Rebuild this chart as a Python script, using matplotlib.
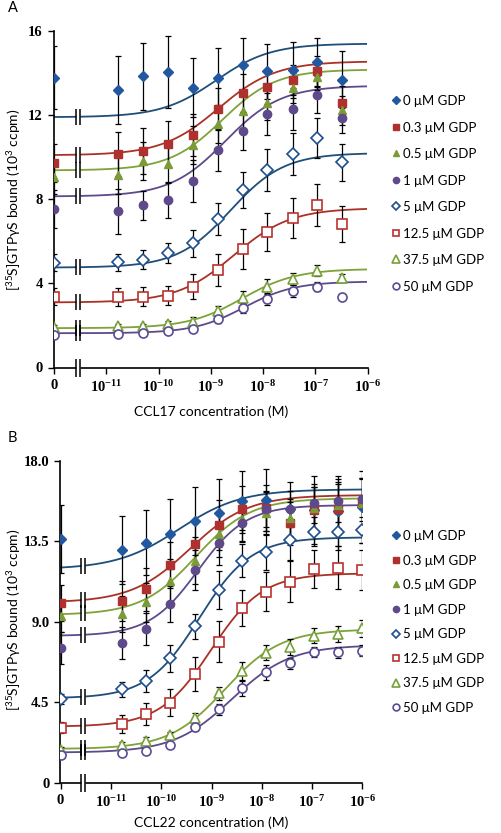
import numpy as np
import matplotlib
matplotlib.use('Agg')
import matplotlib.pyplot as plt
from matplotlib.path import Path
from matplotlib.lines import Line2D

plt.rcParams['mathtext.default'] = 'regular'

# ---------------- data ----------------
gdp_labels = ['0 μM GDP', '0.3 μM GDP', '0.5 μM GDP', '1 μM GDP',
              '5 μM GDP', '12.5 μM GDP', '37.5 μM GDP', '50 μM GDP']

# ligand concentrations (M); 0 = no ligand (drawn at the "0" position)
conc_a = [0, 1.7e-11, 5.1e-11, 1.5e-10, 4.6e-10, 1.4e-9, 4.1e-9, 1.2e-8, 3.7e-8, 1.1e-7, 3.3e-7]
conc_b = [0, 1.7e-11, 5.1e-11, 1.5e-10, 4.6e-10, 1.4e-9, 4.1e-9, 1.2e-8, 3.7e-8, 1.1e-7, 3.3e-7, 1.0e-6]

# Panel A (CCL17) mean [35S]GTPgS bound (10^3 ccpm)
a_0 = [13.77, 13.2, 13.85, 14.04, 13.3, 13.77, 14.36, 14.09, 14.15, 14.51, 13.69]
a_03 = [9.72, 10.17, 10.28, 10.64, 11.07, 12.3, 13.06, 13.33, 13.68, 14.1, 12.58]
a_05 = [9.06, 9.13, 9.8, 9.69, 10.56, 11.56, 12.21, 12.58, 13.28, 13.8, 12.23]
a_1 = [7.55, 7.42, 7.71, 7.98, 8.85, 10.33, 11.23, 12.06, 12.3, 12.98, 11.87]
a_5 = [4.99, 5.0, 5.12, 5.44, 5.91, 7.07, 8.45, 9.37, 10.15, 10.92, 9.75]
a_125 = [3.37, 3.37, 3.37, 3.42, 3.85, 4.64, 5.63, 6.44, 7.1, 7.71, 6.82]
a_375 = [1.94, 1.97, 1.97, 2.05, 2.18, 2.69, 3.32, 3.85, 4.2, 4.61, 4.25]
a_50 = [1.55, 1.6, 1.62, 1.75, 1.82, 2.3, 2.82, 3.26, 3.64, 3.85, 3.34]

# Panel A error (SEM)
ea_0 = [1.5, 1.6, 1.6, 1.7, 1.4, 1.4, 1.3, 1.3, 1.35, 1.15, 1.35]
ea_03 = [0.9, 1.05, 1.1, 1.1, 1.0, 1.0, 0.9, 0.8, 0.7, 0.7, 0.8]
ea_05 = [0.8, 0.9, 0.9, 0.9, 0.9, 0.9, 0.9, 0.8, 0.7, 0.6, 0.7]
ea_1 = [0.9, 1.05, 0.7, 0.85, 1.0, 1.0, 0.9, 1.0, 1.0, 0.9, 0.7]
ea_5 = [0.4, 0.42, 0.45, 0.48, 0.65, 0.75, 0.85, 1.0, 1.0, 0.95, 0.9]
ea_125 = [0.4, 0.43, 0.45, 0.47, 0.6, 0.75, 0.95, 0.9, 0.95, 1.0, 0.85]
ea_375 = [0.1, 0.1, 0.12, 0.15, 0.2, 0.25, 0.3, 0.35, 0.3, 0.25, 0.2]
ea_50 = [0.1, 0.1, 0.1, 0.12, 0.15, 0.2, 0.25, 0.3, 0.3, 0.2, 0.15]

# Panel B (CCL22)
b_0 = [13.61, 13.0, 13.41, 13.88, 14.64, 15.05, 15.75, 15.79, 15.3, 15.23, 15.18, 15.4]
b_03 = [10.04, 10.15, 10.8, 12.16, 13.32, 14.4, 15.27, 15.35, 14.49, 15.23, 15.3, 15.6]
b_05 = [9.33, 9.42, 10.08, 11.27, 12.4, 13.89, 14.73, 15.05, 14.77, 15.33, 15.51, 15.64]
b_1 = [7.54, 7.82, 8.57, 9.98, 11.88, 13.37, 14.53, 15.27, 15.27, 15.61, 15.74, 15.83]
b_5 = [4.68, 5.22, 5.7, 6.95, 8.75, 10.77, 12.4, 12.9, 13.56, 14.02, 14.02, 14.12]
b_125 = [3.07, 3.26, 3.84, 4.47, 6.07, 7.88, 9.74, 10.67, 11.23, 11.94, 12.01, 11.88]
b_375 = [1.83, 2.11, 2.35, 2.66, 3.6, 4.99, 6.24, 7.26, 7.56, 8.21, 8.31, 8.62]
b_50 = [1.55, 1.64, 1.79, 2.11, 3.09, 4.1, 5.27, 6.17, 6.67, 7.32, 7.28, 7.37]

eb_0 = [1.9, 1.9, 1.8, 1.95, 1.9, 1.9, 1.66, 1.73, 1.5, 1.9, 1.95, 2.0]
eb_03 = [1.0, 1.1, 1.2, 1.3, 1.3, 1.4, 1.3, 1.3, 1.2, 1.3, 1.4, 1.4]
eb_05 = [0.9, 1.0, 1.1, 1.2, 1.3, 1.3, 1.2, 1.2, 1.1, 1.2, 1.3, 1.3]
eb_1 = [0.9, 0.9, 0.9, 1.0, 1.1, 1.2, 1.1, 1.0, 1.0, 1.1, 1.2, 1.2]
eb_5 = [0.3, 0.42, 0.62, 0.77, 0.7, 1.07, 0.93, 1.0, 1.1, 0.8, 1.0, 0.75]
eb_125 = [0.3, 0.5, 0.6, 0.75, 0.93, 1.16, 1.0, 1.1, 1.16, 1.07, 1.2, 1.1]
eb_375 = [0.15, 0.15, 0.2, 0.2, 0.3, 0.37, 0.48, 0.42, 0.45, 0.42, 0.46, 0.46]
eb_50 = [0.1, 0.12, 0.12, 0.15, 0.2, 0.3, 0.42, 0.42, 0.3, 0.28, 0.3, 0.3]

# Sigmoidal fit parameters (bottom, top, logEC50, Hill slope) per GDP level
fit_a_bottom = [11.9, 10.09, 9.37, 8.13, 4.75, 3.09, 1.87, 1.63]
fit_a_top = [15.4, 14.56, 14.17, 13.4, 10.2, 7.58, 4.69, 4.09]
fit_a_logec50 = [-8.9, -8.85, -8.78, -8.72, -8.62, -8.56, -8.40, -8.36]
fit_a_hill = [0.83, 0.8, 0.85, 0.82, 0.85, 0.8, 0.84, 0.9]

fit_b_bottom = [11.92, 10.06, 9.37, 8.2, 4.71, 3.13, 1.88, 1.68]
fit_b_top = [16.39, 16.07, 15.89, 15.51, 13.71, 11.7, 8.57, 7.69]
fit_b_logec50 = [-9.65, -9.43, -9.31, -9.27, -9.24, -9.01, -8.73, -8.59]
fit_b_hill = [0.7, 0.75, 0.8, 0.9, 0.85, 0.85, 0.78, 0.75]

# ---------------- style ----------------
ZERO_POS = 1e-12      # where the "0" concentration sits on the log axis
BREAK_POS = 10 ** -11.55
marker_style = [
    dict(marker='D', mfc='#2158A0', mec='#2158A0', ms=5.5),
    dict(marker='s', mfc='#B0302E', mec='#B0302E', ms=5.5),
    dict(marker='^', mfc='#7A9B36', mec='#7A9B36', ms=6),
    dict(marker='o', mfc='#5E4A8A', mec='#5E4A8A', ms=6),
    dict(marker='D', mfc='white', mec='#1F4E8C', ms=6, mew=1.2),
    dict(marker='s', mfc='white', mec='#B8322F', ms=6.5, mew=1.2),
    dict(marker='^', mfc='white', mec='#77A03A', ms=7, mew=1.2),
    dict(marker='o', mfc='white', mec='#5B4B96', ms=6.5, mew=1.2),
]
line_colors = ['#1F4E79', '#A93226', '#7FA23A', '#5D4A8A',
               '#1F4E79', '#A93226', '#7FA23A', '#5D4A8A']

tick_font = dict(family='Liberation Serif', weight='bold', size=10.5)
text_font = ['Lato', 'DejaVu Sans']

break_lines = Path([(-0.25, -1), (-0.25, 1), (0.25, -1), (0.25, 1)],
                   [Path.MOVETO, Path.LINETO, Path.MOVETO, Path.LINETO])
break_fill = Path([(-0.25, -1), (0.25, -1), (0.25, 1), (-0.25, 1), (-0.25, -1)],
                  [Path.MOVETO, Path.LINETO, Path.LINETO, Path.LINETO, Path.CLOSEPOLY])


def hill(logx, bottom, top, logec50, slope):
    return bottom + (top - bottom) / (1 + 10 ** ((logec50 - logx) * slope))


def draw_panel(ax, conc, series, errs, fb, ft, fe, fh, ylim, yticks, yticklabels,
               xlabel, legend_anchor, legend_spacing, ylabel_y, xlabel_top):
    fig = ax.figure
    x = np.array([ZERO_POS if c == 0 else c for c in conc])
    logx_curve = np.linspace(-12, -6, 400)
    for i in range(len(series)):
        ycurve = hill(logx_curve, fb[i], ft[i], fe[i], fh[i])
        ax.plot(10 ** logx_curve, ycurve, color=line_colors[i], lw=1.3, zorder=2)
        # axis-break marks on each curve
        yb = hill(np.log10(BREAK_POS), fb[i], ft[i], fe[i], fh[i])
        ax.plot([BREAK_POS], [yb], marker=break_fill, ms=11, mfc='white', mec='none', ls='none', zorder=3)
        ax.plot([BREAK_POS], [yb], marker=break_lines, ms=11, mec='black', mew=1.1, ls='none', zorder=4)
    for i in range(len(series)):
        ax.errorbar(x, series[i], yerr=errs[i], fmt='none', ecolor='black', elinewidth=0.9,
                    capsize=2.5, capthick=0.9, zorder=5)
    handles = []
    for i in range(len(series)):
        ax.plot(x, series[i], ls='none', zorder=6, **marker_style[i])
        handles.append(Line2D([], [], ls='none', **marker_style[i]))
    # break mark on x axis
    ax.plot([BREAK_POS], [0], marker=break_fill, ms=13, mfc='white', mec='none', ls='none',
            zorder=7, clip_on=False)
    ax.plot([BREAK_POS], [0], marker=break_lines, ms=13, mec='black', mew=1.1, ls='none',
            zorder=8, clip_on=False)

    ax.set_xscale('log')
    ax.set_xlim(ZERO_POS, 1e-6)
    ax.set_ylim(*ylim)
    xt = [ZERO_POS, 1e-11, 1e-10, 1e-9, 1e-8, 1e-7, 1e-6]
    ax.set_xticks(xt)
    ax.set_xticklabels(['0'] + ['10$^{%d}$' % e for e in range(-11, -5)], **tick_font)
    ax.xaxis.set_minor_locator(matplotlib.ticker.NullLocator())
    ax.set_yticks(yticks)
    ax.set_yticklabels(yticklabels, **tick_font)
    ax.tick_params(axis='both', direction='out', length=4, width=1.0, pad=4)
    for s in ['top', 'right']:
        ax.spines[s].set_visible(False)
    for s in ['left', 'bottom']:
        ax.spines[s].set_linewidth(1.2)
    ax.set_xlabel(xlabel, family=text_font, fontsize=10)
    ax.xaxis.set_label_coords(0.5, 1 - xlabel_top / 833, transform=fig.transFigure)
    ax.xaxis.label.set_x((ax.get_position().x0 + ax.get_position().x1) / 2)
    ax.set_ylabel('[$^{35}$S]GTPγS bound (10$^{3}$ ccpm)', family=text_font, fontsize=10)
    ax.yaxis.set_label_coords(23 / 502, ylabel_y, transform=fig.transFigure)
    ax.legend(handles, gdp_labels, loc='upper left', bbox_to_anchor=legend_anchor,
              bbox_transform=fig.transFigure, frameon=False, markerscale=0.75,
              handlelength=0.6, handletextpad=0.25, labelspacing=legend_spacing,
              borderaxespad=0, borderpad=0,
              prop=dict(family=text_font, size=9.5))


fig = plt.figure(figsize=(5.02, 8.33), dpi=100)
ax_a = fig.add_axes([54 / 502, 1 - 367.5 / 833, 313.5 / 502, 336.5 / 833])
ax_b = fig.add_axes([60.5 / 502, 1 - 782.7 / 833, 302 / 502, 322.2 / 833])

draw_panel(ax_a, conc_a, [a_0, a_03, a_05, a_1, a_5, a_125, a_375, a_50],
           [ea_0, ea_03, ea_05, ea_1, ea_5, ea_125, ea_375, ea_50],
           fit_a_bottom, fit_a_top, fit_a_logec50, fit_a_hill,
           (0, 16), [0, 4, 8, 12, 16], ['0', '4', '8', '12', '16'],
           'CCL17 concentration (M)', (392 / 502, 1 - 95 / 833), 1.1, 1 - 200 / 833, 405)
draw_panel(ax_b, conc_b, [b_0, b_03, b_05, b_1, b_5, b_125, b_375, b_50],
           [eb_0, eb_03, eb_05, eb_1, eb_5, eb_125, eb_375, eb_50],
           fit_b_bottom, fit_b_top, fit_b_logec50, fit_b_hill,
           (0, 18), [0, 4.5, 9, 13.5, 18], ['0', '4.5', '9.0', '13.5', '18.0'],
           'CCL22 concentration (M)', (392 / 502, 1 - 530 / 833), 0.95, 1 - 620 / 833, 816)

fig.text(13 / 502, 1 - 8 / 833, 'A', family=text_font, fontsize=10.5, ha='center', va='center')
fig.text(12 / 502, 1 - 438 / 833, 'B', family=text_font, fontsize=10.5, ha='center', va='center')

fig.savefig('out.png', dpi=100, facecolor='white')
